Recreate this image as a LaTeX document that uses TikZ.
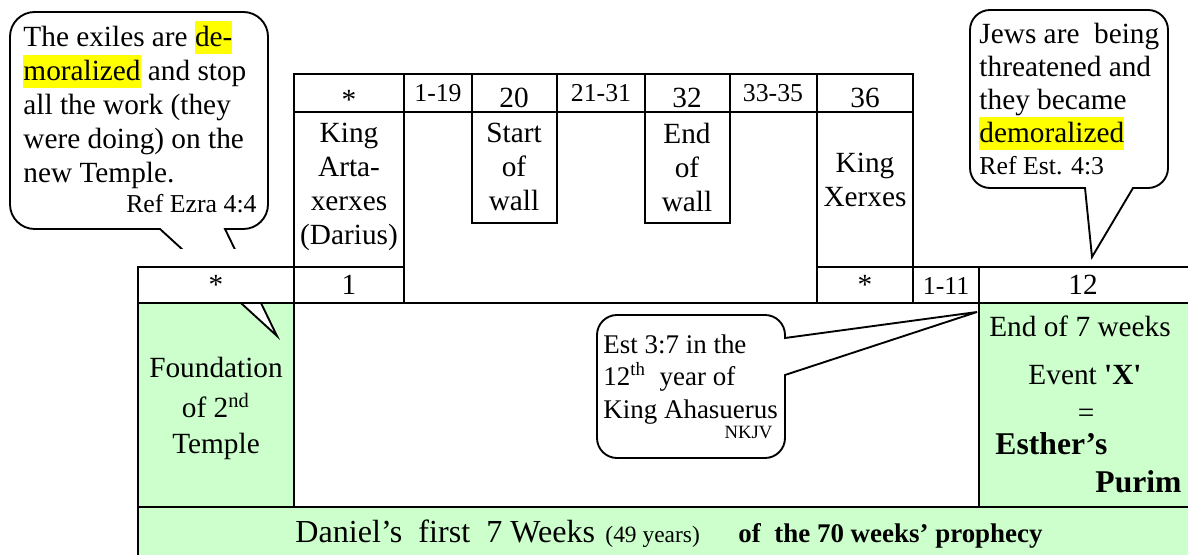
\documentclass[tikz,border=0pt]{standalone}
\usepackage{fontspec}
\setmainfont{Liberation Serif}
\usepackage{xcolor}
\usepackage{tikz}
\usetikzlibrary{positioning}
\definecolor{mint}{HTML}{CCFFCC}
\definecolor{marker}{HTML}{FFFF00}
\newcommand{\hlword}[1]{{\setlength{\fboxsep}{0pt}\colorbox{marker}{\rule[-0.25em]{0pt}{1.12em}#1}}}
\newcommand{\bodyfont}{\fontsize{12.5pt}{14.5pt}\selectfont}
\tikzset{
    cell/.style={draw, line width=0.8pt},
    greencell/.style={cell, fill=mint},
    whitecell/.style={cell, fill=white},
    bubble/.style={draw, line width=0.8pt, fill=white, line join=miter},
    celltext/.style={font=\bodyfont, inner sep=0pt, align=center},
    bubbletext/.style={font=\bodyfont, inner sep=0pt, align=left},
    rangetext/.style={font=\fontsize{11pt}{13pt}\selectfont, inner sep=0pt},
    reftext/.style={font=\fontsize{11pt}{13pt}\selectfont, inner sep=0pt},
    purimtext/.style={font=\bfseries\fontsize{13.5pt}{16pt}\selectfont, inner sep=0pt}
}

\begin{document}
\begin{tikzpicture}[x=0.015cm, y=-0.015cm]
\useasboundingbox (0,0) rectangle (1188,555);

% Green base and weeks bar
\draw[greencell] (138,303) rectangle (294,507);
\draw[whitecell] (294,303) rectangle (979,507);
\draw[greencell] (979,303) rectangle (1192,507);
\draw[greencell] (138,507) rectangle (1192,560);

% Ezra callout (tail runs behind the table)
\draw[bubble] (225,229) [rounded corners=0.37cm] -- (268,229) -- (268,12) -- (10,12) -- (10,229)
    [sharp corners] -- (160,229) -- (277,336) -- cycle;
\fill[white] (138,249) rectangle (294,267);

% Lower row of years
\draw[whitecell] (138,267) rectangle (294,303);
\draw[whitecell] (294,267) rectangle (404,303);
\draw[whitecell] (817,267) rectangle (913,303);
\draw[whitecell] (913,267) rectangle (979,303);
\draw[whitecell] (979,267) rectangle (1192,303);

% Upper row of years
\draw[cell] (294,74) rectangle (404,112);
\draw[cell] (404,74) rectangle (472,112);
\draw[cell] (472,74) rectangle (557,112);
\draw[cell] (557,74) rectangle (645,112);
\draw[cell] (645,74) rectangle (730,112);
\draw[cell] (730,74) rectangle (817,112);
\draw[cell] (817,74) rectangle (913,112);
\draw[cell] (294,112) rectangle (404,267);
\draw[cell] (472,112) rectangle (557,223);
\draw[cell] (645,112) rectangle (730,223);
\draw[cell] (817,112) rectangle (913,267);

% Esther callouts
\draw[bubble] (1133,188) [rounded corners=0.3cm] -- (1168,188) -- (1168,10) -- (970,10) -- (970,188)
    [sharp corners] -- (1085,188) -- (1092,257) -- cycle;
\draw[bubble] (785,375) [rounded corners=0.3cm] -- (785,458) -- (597,458) -- (597,315) -- (785,315)
    [sharp corners] -- (785,338) -- (977,312) -- cycle;

% Year labels
\node[celltext, anchor=base] (topstar) at (349,110) {*};
\node[rangetext, anchor=base] (yrsa) at (438,102) {1-19};
\node[celltext, anchor=base] (yr20) at (514,108) {20};
\node[rangetext, anchor=base] (yrsb) at (601,102) {21-31};
\node[celltext, anchor=base] (yr32) at (687,108) {32};
\node[rangetext, anchor=base] (yrsc) at (773,102) {33-35};
\node[celltext, anchor=base] (yr36) at (865,108) {36};
\node[celltext, anchor=base] (lowstara) at (216,295) {*};
\node[celltext, anchor=base] (yr1) at (349,295) {1};
\node[celltext, anchor=base] (lowstarb) at (865,295) {*};
\node[rangetext, anchor=base] (yrsd) at (946,295) {1-11};
\node[celltext, anchor=base] (yr12) at (1083,295) {12};

% Events
\node[celltext, anchor=north] (artaxerxes) at (349,123) {King\\Arta-\\xerxes\\(Darius)};
\node[celltext, anchor=north] (startwall) at (514,123) {Start\\of\\wall};
\node[celltext, anchor=north] (endwall) at (687,123) {End\\of\\wall};
\node[celltext, anchor=north] (xerxes) at (865,153) {King\\Xerxes};
\node[celltext, anchor=north] (foundation) at (216,357) {Foundation\\[2.5pt]of 2\textsuperscript{nd}\\[1pt]Temple};
\node[celltext, anchor=base] (endweeks) at (1080,337) {End of 7 weeks};
\node[celltext, anchor=base] (eventx) at (1085,385) {Event \textbf{\textquotesingle X\textquotesingle}};
\node[celltext, anchor=base] (equals) at (1086,423) {=};
\node[purimtext, anchor=base west] (esther) at (995,455) {Esther’s};
\node[purimtext, anchor=base east] (purim) at (1182,493) {Purim};

% Callout texts
\node[bubbletext, anchor=north west] (exiles) at (23,21) {The exiles are \hlword{de-}\\\hlword{moralized} and stop\\all the work (they\\were doing) on the\\new Temple.};
\node[reftext, anchor=base east] (ezraref) at (257,213) {Ref Ezra 4:4};
\node[bubbletext, anchor=north west, font=\fontsize{12.5pt}{14.1pt}\selectfont] (jews) at (979,23) {Jews are\ \ being\\threatened and\\they became\\\hlword{demoralized}};
\node[reftext, anchor=base west] (estherref) at (979,175) {Ref Est. 4:3};
\node[bubbletext, anchor=north west, font=\fontsize{11.5pt}{14pt}\selectfont] (ahasuerus) at (603,334) {Est 3:7 in the\\12\textsuperscript{th}\ \ year of\\King Ahasuerus};
\node[anchor=base east, inner sep=0pt, font=\fontsize{8pt}{10pt}\selectfont] (nkjv) at (773,439) {NKJV};

% Weeks bar
\node[anchor=base west, inner sep=0pt, font=\fontsize{13.7pt}{16pt}\selectfont] (daniel) at (295,542) {Daniel’s\ \ first\ \ 7 Weeks};
\node[anchor=base west, inner sep=0pt, font=\fontsize{10pt}{12pt}\selectfont] (years) at (605,542) {(49 years)};
\node[anchor=base west, inner sep=0pt, font=\bfseries\fontsize{11.5pt}{13pt}\selectfont] (prophecy) at (738,542) {of\ \ the 70 weeks’ prophecy};

\end{tikzpicture}
\end{document}
